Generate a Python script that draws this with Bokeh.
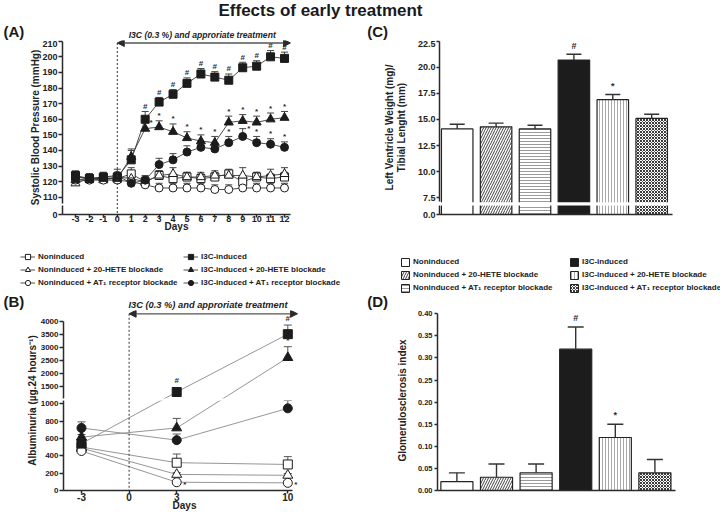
import numpy as np
from bokeh.plotting import figure
from bokeh.layouts import column, row
from bokeh.models import (ColumnDataSource, FixedTicker, Label, Legend, LegendItem,
                          Arrow, NormalHead, BoxAnnotation)
from bokeh.core.properties import value
from bokeh.embed import file_html
from bokeh.resources import INLINE

# ======================= DATA =======================
title_text = "Effects of early treatment"
treatment_text = "I3C (0.3 %) and approriate treatment"

group_names = ["Noninduced", "Noninduced + 20-HETE blockade", "Noninduced + AT\u2081 receptor blockade",
               "I3C-induced", "I3C-induced + 20-HETE blockade", "I3C-induced + AT\u2081 receptor blockade"]

# Panel A - systolic blood pressure (mmHg)
sbp_days = [-3, -2, -1, 0, 1, 2, 3, 4, 5, 6, 7, 8, 9, 10, 11, 12]
sbp_nonind = [123, 122, 122, 122, 125, 120, 124, 122, 123, 122, 123, 125, 120, 123, 122, 123]
sbp_nonind_err = [3, 3, 3, 3, 4, 3, 3, 3, 3, 3, 3, 3, 4, 3, 3, 3]
sbp_nonind_hete = [119, 122, 121, 123, 122, 120, 124, 125, 123, 123, 124, 124, 124, 123, 124, 125]
sbp_nonind_hete_err = [3, 3, 3, 3, 3, 3, 3, 4, 3, 3, 3, 3, 5, 3, 4, 4]
sbp_nonind_at1 = [121, 121, 121, 121, 120, 118, 116, 116, 116, 116, 115, 115, 116, 116, 116, 116]
sbp_nonind_at1_err = [3, 3, 3, 3, 3, 3, 3, 3, 3, 3, 3, 3, 3, 3, 3, 3]
sbp_i3c = [124, 122, 123, 123, 134, 160, 171, 176, 183, 189, 187, 185, 193, 194, 200, 199]
sbp_i3c_err = [3, 3, 3, 3, 6, 5, 3, 3, 3.5, 3.5, 3.5, 4, 3.5, 3.5, 4, 4]
sbp_i3c_hete = [121, 122, 122, 122, 136, 154, 155, 152, 148, 146, 145, 158, 159, 158, 160, 161]
sbp_i3c_hete_err = [3, 3, 3, 3, 5, 4, 4, 5, 4, 4, 4, 4, 4, 4, 4, 4]
sbp_i3c_at1 = [123, 122, 123, 124, 119, 121, 131, 134, 139, 142, 141, 145, 149, 145, 144, 142]
sbp_i3c_at1_err = [3, 3, 3, 4, 3, 3, 4, 4, 4, 3.5, 3.5, 4, 5, 4, 3.5, 3.5]
sbp_sig_i3c = ["", "", "", "", "", "#", "#", "#", "#", "#", "#", "#", "#", "#", "#", "#"]
sbp_sig_i3c_hete = ["", "", "", "", "", "*", "*", "*", "*", "*", "*", "*", "*", "*", "*", "*"]
sbp_sig_i3c_at1 = ["", "", "", "", "", "", "", "", "", "", "", "*", "*", "*", "*", "*"]
sbp_sig_place_hete = ["above"] * 5 + ["right"] + ["above"] * 10
sbp_sig_place_at1 = ["above"] * 12 + ["right"] + ["above"] * 3
sbp_yticks = [0, 110, 120, 130, 140, 150, 160, 170, 180, 190, 200, 210]

# Panel B - albuminuria (ug/24 h)
alb_days = [-3, 3, 10]
alb_nonind = [500, 320, 300]
alb_nonind_err = [30, 100, 90]
alb_nonind_hete = [488, 185, 175]
alb_nonind_hete_err = [20, 20, 20]
alb_nonind_at1 = [455, 95, 88]
alb_nonind_at1_err = [20, 15, 15]
alb_i3c = [540, 1280, 3500]
alb_i3c_err = [40, 160, 350]
alb_i3c_hete = [615, 720, 2600]
alb_i3c_hete_err = [30, 110, 420]
alb_i3c_at1 = [720, 580, 946]
alb_i3c_at1_err = [70, 70, 90]
alb_sig_i3c = ["", "#", "#"]
alb_sig_i3c_hete = ["", "", "*"]
alb_sig_nonind_at1 = ["", "*", "*"]
alb_yticks = [0, 200, 400, 600, 800, 1000, 1500, 2000, 2500, 3000, 3500, 4000]
alb_xticks = [-3, 0, 3, 10]

# Panel C - LV weight / tibial length
lvw = [14.1, 14.3, 14.1, 20.7, 16.9, 15.1]
lvw_err = [0.45, 0.35, 0.35, 0.55, 0.5, 0.4]
lvw_sig = ["", "", "", "#", "*", ""]
lvw_yticks = [0.0, 7.5, 10.0, 12.5, 15.0, 17.5, 20.0, 22.5]

# Panel D - glomerulosclerosis index
gsi = [0.02, 0.03, 0.04, 0.32, 0.12, 0.04]
gsi_err = [0.02, 0.03, 0.02, 0.05, 0.03, 0.03]
gsi_sig = ["", "", "", "#", "*", ""]
gsi_yticks = [0.0, 0.05, 0.10, 0.15, 0.20, 0.25, 0.30, 0.35, 0.40]

# ======================= STYLE / LAYOUT =======================
FONT = "Liberation Sans"
AX = "#2b2b2b"
DARK = "#1c1c1c"
TXT = "#222222"

bar_fill = ["white", "white", "white", DARK, "white", "white"]
bar_hatch = [" ", "/", "-", " ", "|", "x"]
bar_hatch_color = ["#555555", "#444444", "#9a9a9a", "#555555", "#a8a8a8", "#3a3a3a"]
bar_hatch_scale = [4, 5, 3, 4, 3, 3]

# marker style of the six groups (A and B)
grp_marker = ["square", "triangle", "circle", "square", "triangle", "circle"]
grp_filled = [False, False, False, True, True, True]


def make_fig(w, h, xr, yr, ml, mr, mt, mb):
    p = figure(width=w, height=h, x_range=xr, y_range=yr, output_backend="svg",
               toolbar_location=None, min_border_left=ml, min_border_right=mr,
               min_border_top=mt, min_border_bottom=mb)
    p.grid.visible = False
    p.outline_line_color = None
    p.background_fill_color = "white"
    p.border_fill_color = "white"
    for ax in p.axis:
        ax.axis_line_color = AX
        ax.axis_line_width = 1.5
        ax.major_tick_line_color = AX
        ax.major_tick_line_width = 1.5
        ax.major_tick_in = 0
        ax.major_tick_out = 3
        ax.minor_tick_line_color = None
        ax.major_label_text_font = FONT
        ax.major_label_text_font_style = "bold"
        ax.major_label_text_color = TXT
        ax.axis_label_text_font = FONT
        ax.axis_label_text_font_style = "bold"
        ax.axis_label_text_color = TXT
        ax.axis_label_text_font_size = "10px"
    return p


def blank_fig(w, h, xr, yr):
    p = figure(width=w, height=h, x_range=xr, y_range=yr, output_backend="svg",
               toolbar_location=None, min_border_left=0, min_border_right=0,
               min_border_top=0, min_border_bottom=0)
    p.axis.visible = False
    p.grid.visible = False
    p.outline_line_color = None
    p.border_fill_color = "white"
    return p


def add_label(p, x, y, text, size, style="bold", align="left", color=TXT):
    p.add_layout(Label(x=x, y=y, text=text, text_font=FONT, text_font_size=size,
                       text_font_style=style, text_align=align, text_baseline="middle",
                       text_color=color))


def add_sig(p, xs, ys, errs, labels, places, size="8px", up=5):
    ox, oy, yy = [], [], []
    for i, pl in enumerate(places):
        if pl == "above":
            ox.append(0); oy.append(-up); yy.append(ys[i] + errs[i])
        elif pl == "right":
            ox.append(6); oy.append(0); yy.append(ys[i] + errs[i])
        else:  # beside the mean
            ox.append(8); oy.append(2); yy.append(ys[i])
    src = ColumnDataSource(dict(x=xs, y=yy, t=labels, ox=ox, oy=oy))
    p.text(x="x", y="y", text="t", x_offset="ox", y_offset="oy", source=src,
           text_font=value(FONT), text_font_size=size, text_font_style="bold",
           text_align="center", text_baseline="middle", text_color="#2a2a2a")


def add_errbars(p, xs, ys, errs, cap, color=AX, lw=1.0):
    up = [y + e for y, e in zip(ys, errs)]
    src = ColumnDataSource(dict(x=xs, y=ys, up=up))
    p.segment(x0="x", y0="y", x1="x", y1="up", source=src, line_color=color, line_width=lw)
    p.scatter(x="x", y="up", source=src, marker="dash", size=cap, line_color=color, line_width=lw)


def arrow_head(size):
    return NormalHead(size=size, fill_color=AX, line_color=AX)


# ---------------- top strip: title, (A), (C), treatment note of A ----------------
pT = blank_fig(720, 40, (0, 720), (40, 0))   # pixel space, y downwards
add_label(pT, 320, 9.6, title_text, "17px", align="center", color="#1a1a1a")
add_label(pT, 3, 31.4, "(A)", "15px", color="#1a1a1a")
add_label(pT, 366.7, 31.4, "(C)", "15px", color="#1a1a1a")
add_label(pT, 201.7, 34, treatment_text, "8.6px", style="bold italic", align="center")

# ---------------- Panel A ----------------
xrA, yrA = (-3.933, 12.43), (99.0, 210.45)
pA = make_fig(360, 205, xrA, yrA, 62, 70, 0, 31)
sbp_zero_pos = 99.0
pA.yaxis.ticker = FixedTicker(ticks=[sbp_zero_pos] + sbp_yticks[1:])
pA.yaxis.major_label_overrides = {sbp_zero_pos: "0"}
pA.yaxis.bounds = (sbp_zero_pos, sbp_yticks[-1])
pA.yaxis.major_label_text_font_size = "9px"
pA.yaxis.major_tick_out = 4
pA.yaxis.major_label_standoff = 1
pA.yaxis.axis_label = "Systolic Blood Pressure (mmHg)"
pA.yaxis.axis_label_standoff = -2
pA.yaxis.axis_line_dash = "9 2 400"
pA.xaxis.ticker = FixedTicker(ticks=sbp_days)
pA.xaxis.major_label_overrides = {d: str(d) for d in sbp_days}
pA.xaxis.major_label_text_font_size = "9px"
pA.xaxis.major_label_standoff = -2
pA.xaxis.axis_label = "Days"
pA.xaxis.axis_label_standoff = -4

yarrA = 208.85   # arrow height just under the top of the axis
pA.add_layout(Arrow(x_start=0, y_start=yarrA, x_end=xrA[1], y_end=yarrA,
                    start=arrow_head(7), end=arrow_head(7), line_color="#555555", line_width=1.3))
pA.add_layout(Arrow(x_start=0, y_start=yarrA, x_end=0, y_end=yrA[0], end=None,
                    line_color="#333333", line_width=1, line_dash="2 2"))

seriesA = [(sbp_nonind, sbp_nonind_err), (sbp_nonind_hete, sbp_nonind_hete_err),
           (sbp_nonind_at1, sbp_nonind_at1_err), (sbp_i3c, sbp_i3c_err),
           (sbp_i3c_hete, sbp_i3c_hete_err), (sbp_i3c_at1, sbp_i3c_at1_err)]
for ys, es in seriesA:
    pA.line(sbp_days, ys, line_color="#3a3a3a", line_width=0.9)
for ys, es in seriesA:
    add_errbars(pA, sbp_days, ys, es, 7, color="#444444", lw=1.0)
for i, (ys, es) in enumerate(seriesA):
    pA.scatter(sbp_days, ys, marker=grp_marker[i], size=9 if grp_marker[i] == "triangle" else 8,
               fill_color=DARK if grp_filled[i] else "white", line_color=DARK, line_width=1.0)
add_sig(pA, sbp_days, sbp_i3c, sbp_i3c_err, sbp_sig_i3c, ["above"] * 16)
add_sig(pA, sbp_days, sbp_i3c_hete, sbp_i3c_hete_err, sbp_sig_i3c_hete, sbp_sig_place_hete)
add_sig(pA, sbp_days, sbp_i3c_at1, sbp_i3c_at1_err, sbp_sig_i3c_at1, sbp_sig_place_at1)

# ---------------- Panel C ----------------
bar_x = list(range(len(group_names)))
xrC, yrC = (-0.455, 5.535), (5.9, 22.567)
pC = make_fig(360, 205, xrC, yrC, 79, 48, 0, 31)
lvw_zero_pos = 5.9
lvw_tpos = [lvw_zero_pos] + lvw_yticks[1:]
pC.yaxis.ticker = FixedTicker(ticks=lvw_tpos)
pC.yaxis.major_label_overrides = {tp: "%.1f" % v for tp, v in zip(lvw_tpos, lvw_yticks)}
pC.yaxis.bounds = (lvw_zero_pos, lvw_yticks[-1])
pC.yaxis.major_label_text_font_size = "9px"
pC.yaxis.major_label_standoff = 1
pC.yaxis.axis_label = "Left Ventricle Weight (mg)/\nTibial Lenght (mm)"
pC.yaxis.axis_label_text_line_height = 1.1
pC.yaxis.axis_label_standoff = 8
pC.yaxis.axis_line_dash = "9 4 300"
pC.xaxis.ticker = FixedTicker(ticks=[])
srcC = ColumnDataSource(dict(x=bar_x, top=lvw, fill=bar_fill, hatch=bar_hatch,
                             hcol=bar_hatch_color, hscale=bar_hatch_scale))
pC.vbar(x="x", top="top", bottom=lvw_zero_pos, width=0.81, source=srcC,
        fill_color="fill", line_color="#222222", line_width=1.2,
        hatch_pattern="hatch", hatch_color="hcol", hatch_scale="hscale", hatch_weight=1)
add_errbars(pC, bar_x, lvw, lvw_err, 15, color="#333333", lw=1.4)
add_sig(pC, bar_x, lvw, lvw_err, lvw_sig, ["above"] * 6, size="9px", up=8)
pC.add_layout(BoxAnnotation(bottom=6.77, top=7.08, fill_color="white", fill_alpha=1, line_color=None))

# ---------------- legend strip: both legends, (B), (D), treatment note of B ----------------
pL = blank_fig(720, 65, (0, 720), (310, 245))   # pixel space, y downwards
nan1 = np.array([np.nan])
legA_r = []
for i in range(6):
    ln = pL.line(nan1, nan1, line_color="#3a3a3a", line_width=0.9)
    mk = pL.scatter(nan1, nan1, marker=grp_marker[i], size=8,
                    fill_color=DARK if grp_filled[i] else "white", line_color=DARK, line_width=1.0)
    legA_r.append([ln, mk])
nan6 = np.full(6, np.nan)
srcP = ColumnDataSource(dict(x=nan6, top=nan6, fill=bar_fill, hatch=bar_hatch,
                             hcol=bar_hatch_color, hscale=bar_hatch_scale))
proxyC = pL.vbar(x="x", top="top", bottom=0, width=0.8, source=srcP,
                 fill_color="fill", line_color="#222222", line_width=1.0,
                 hatch_pattern="hatch", hatch_color="hcol", hatch_scale="hscale", hatch_weight=1)

legA_kw = dict(orientation="vertical", glyph_width=15, glyph_height=13, spacing=0,
               label_standoff=3, label_height=10, label_text_font=FONT, label_text_font_size="8px",
               label_text_font_style="bold", label_text_color=TXT, padding=0, margin=0,
               border_line_color=None, background_fill_alpha=0)
pL.add_layout(Legend(items=[LegendItem(label=group_names[i], renderers=legA_r[i]) for i in range(3)],
                     location=(20, 310 - 288.5), **legA_kw))
pL.add_layout(Legend(items=[LegendItem(label=group_names[i], renderers=legA_r[i]) for i in range(3, 6)],
                     location=(183, 310 - 288.5), **legA_kw))
legC_kw = dict(orientation="vertical", glyph_width=10, glyph_height=10, spacing=3,
               label_standoff=3, label_height=10, label_text_font=FONT, label_text_font_size="8px",
               label_text_font_style="bold", label_text_color=TXT, padding=0, margin=0,
               border_line_color=None, background_fill_alpha=0)
pL.add_layout(Legend(items=[LegendItem(label=group_names[i], renderers=[proxyC], index=i) for i in range(3)],
                     location=(400, 310 - 292.5), **legC_kw))
pL.add_layout(Legend(items=[LegendItem(label=group_names[i], renderers=[proxyC], index=i) for i in range(3, 6)],
                     location=(569, 310 - 292.5), **legC_kw))
add_label(pL, 3, 301.4, "(B)", "15px", color="#1a1a1a")
add_label(pL, 366.7, 301.4, "(D)", "15px", color="#1a1a1a")
add_label(pL, 207.5, 304.2, treatment_text, "9.3px", style="bold italic", align="center")


# ---------------- Panel B ----------------
def alb_pos(v):
    # broken axis: linear below the break, compressed above it
    return v if v <= 1050 else 1200 + (v - 1500) * 0.3


pxday = 15.87
xrB = (-4.134, -4.134 + 242 / pxday)
yrB = (0.0, 2072.5)
pB = make_fig(360, 203, xrB, yrB, 63, 55, 0, 22)
tickpos = [alb_pos(v) for v in alb_yticks]
pB.yaxis.ticker = FixedTicker(ticks=tickpos)
pB.yaxis.major_label_overrides = {tp: str(v) for tp, v in zip(tickpos, alb_yticks)}
pB.yaxis.bounds = (0, alb_pos(alb_yticks[-1]))
pB.yaxis.major_label_text_font_size = "8px"
pB.yaxis.major_tick_out = 4
pB.yaxis.major_label_standoff = 1
pB.yaxis.axis_label = "Albuminuria (\u00b5g.24 hours\u207b\u00b9)"
pB.yaxis.axis_label_standoff = 0
pB.yaxis.axis_line_dash = "90 2 400"
pB.xaxis.ticker = FixedTicker(ticks=alb_xticks)
pB.xaxis.major_label_overrides = {d: str(d) for d in alb_xticks}
pB.xaxis.bounds = (xrB[0], 10.296)
pB.xaxis.major_label_text_font_size = "10px"
pB.xaxis.major_label_standoff = -1
pB.xaxis.axis_label = "Days"
pB.xaxis.axis_label_text_font_size = "10px"
pB.xaxis.axis_label_standoff = -4

pB.add_layout(BoxAnnotation(bottom=1037, top=1060, right=10.296,
                            fill_color="white", fill_alpha=1, line_color=None))
yarrB = (491 - 313.3) / 0.087333
pB.add_layout(Arrow(x_start=0, y_start=yarrB, x_end=-4.134 + 234 / pxday, y_end=yarrB,
                    start=arrow_head(7), end=arrow_head(7), line_color="#555555", line_width=1.3))
pB.add_layout(Arrow(x_start=0, y_start=yarrB, x_end=0, y_end=0, end=None,
                    line_color="#333333", line_width=1, line_dash="2 2"))

seriesB = [(alb_nonind, alb_nonind_err), (alb_nonind_hete, alb_nonind_hete_err),
           (alb_nonind_at1, alb_nonind_at1_err), (alb_i3c, alb_i3c_err),
           (alb_i3c_hete, alb_i3c_hete_err), (alb_i3c_at1, alb_i3c_at1_err)]


def posB(ys):
    return [alb_pos(v) for v in ys]


def upB(ys, es):
    return [alb_pos(v + e) - alb_pos(v) for v, e in zip(ys, es)]


for ys, es in seriesB:
    pB.line(alb_days, posB(ys), line_color="#8a8a8a", line_width=0.9)
for ys, es in seriesB:
    add_errbars(pB, alb_days, posB(ys), upB(ys, es), 8, color="#555555", lw=1.0)
for i, (ys, es) in enumerate(seriesB):
    pB.scatter(alb_days, posB(ys), marker=grp_marker[i], size=10 if grp_marker[i] == "triangle" else 9,
               fill_color=DARK if grp_filled[i] else "white", line_color=DARK, line_width=1.0)
add_sig(pB, alb_days, posB(alb_i3c), upB(alb_i3c, alb_i3c_err), alb_sig_i3c, ["above"] * 3, up=7)
add_sig(pB, alb_days, posB(alb_i3c_hete), upB(alb_i3c_hete, alb_i3c_hete_err), alb_sig_i3c_hete, ["above"] * 3, up=6)
add_sig(pB, alb_days, posB(alb_nonind_at1), upB(alb_nonind_at1, alb_nonind_at1_err), alb_sig_nonind_at1, ["side"] * 3)

# ---------------- Panel D ----------------
xrD, yrD = (-0.49, 5.52), (0.0, 0.40743)
pD = make_fig(360, 203, xrD, yrD, 77, 45, 0, 22)
pD.yaxis.ticker = FixedTicker(ticks=gsi_yticks)
pD.yaxis.major_label_overrides = {v: "%.2f" % v for v in gsi_yticks}
pD.yaxis.bounds = (0, gsi_yticks[-1])
pD.yaxis.major_label_text_font_size = "7.5px"
pD.yaxis.major_label_standoff = 2
pD.yaxis.axis_label = "Glomerulosclerosis index"
pD.yaxis.axis_label_standoff = 7
pD.xaxis.ticker = FixedTicker(ticks=[])
srcD = ColumnDataSource(dict(x=bar_x, top=gsi, fill=bar_fill, hatch=bar_hatch,
                             hcol=bar_hatch_color, hscale=bar_hatch_scale))
pD.vbar(x="x", top="top", bottom=0, width=0.81, source=srcD,
        fill_color="fill", line_color="#222222", line_width=1.2,
        hatch_pattern="hatch", hatch_color="hcol", hatch_scale="hscale", hatch_weight=1)
add_errbars(pD, bar_x, gsi, gsi_err, 16, color="#333333", lw=1.4)
add_sig(pD, bar_x, gsi, gsi_err, gsi_sig, ["above"] * 6, size="9px", up=9)

layout = column(pT, row(pA, pC), pL, row(pB, pD))
open("out.html", "w").write(file_html(layout, INLINE))
